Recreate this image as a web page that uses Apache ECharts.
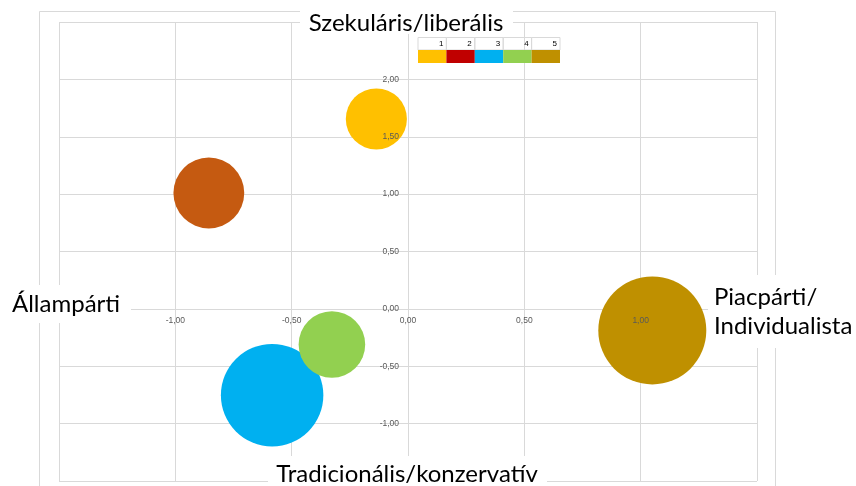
<!DOCTYPE html>
<html>
<head>
<meta charset="utf-8">
<script src="https://cdn.jsdelivr.net/npm/echarts@6/dist/echarts.min.js"></script>
<style>
  html, body { margin: 0; padding: 0; background: #fff; }
  #chart { width: 856px; height: 486px; }
</style>
</head>
<body>
<div id="chart"></div>
<script>
// bubble data, one entry per group
const seriesNames = ['1', '2', '3', '4', '5'];
const xValues = [-0.136, -0.856, -0.584, -0.327, 1.05];
const yValues = [1.655, 1.01, -0.752, -0.31, -0.188];
const bubbleSizes = [32, 43, 90, 38, 100];
const bubbleColors = ['#FFC000', '#C55A11', '#00B0F0', '#92D050', '#BF9000'];

// the small legend table at the top
const legendLabels = ['1', '2', '3', '4', '5'];
const legendColors = ['#FFC000', '#C00000', '#00B0F0', '#92D050', '#BF9000'];

// axis titles
const titleTop = 'Szekuláris/liberális';
const titleBottom = 'Tradicionális/konzervatív';
const titleLeft = 'Állampárti';
const titleRight = 'Piacpárti/\nIndividualista';

const chart = echarts.init(document.getElementById('chart'));

const xMin = -1.5, xMax = 1.5, yMin = -1.5, yMax = 2.5;
const gridW = 698, gridH = 459;

const maxSize = Math.max(...bubbleSizes);
const fmt = (v) => v.toFixed(2).replace('.', ',');
const gridColor = '#d9d9d9';
const titleFont = '24px Lato';
const labelStyle = { fontSize: 8.5, fontFamily: 'Liberation Sans', color: '#595959', hideOverlap: false };

const seriesData = seriesNames.map((name, i) => ({
    name: name,
    type: 'scatter',
    xAxisIndex: 0,
    yAxisIndex: 0,
    symbolSize: (v) => 108 * Math.sqrt(v[2] / maxSize),
    itemStyle: { color: bubbleColors[i], opacity: 1 },
    data: [[xValues[i], yValues[i], bubbleSizes[i]]]
}));

// legend table
const legendGraphics = [];
const cellW = 28.4;
legendLabels.forEach((lab, i) => {
    const x0 = 418 + i * cellW;
    legendGraphics.push({
        type: 'rect', z: 20,
        shape: { x: x0, y: 37.5, width: cellW, height: 12.5 },
        style: { fill: 'none', stroke: gridColor, lineWidth: 1 }
    });
    legendGraphics.push({
        type: 'text', z: 21,
        style: { text: lab, x: x0 + cellW - 3, y: 44, align: 'right', verticalAlign: 'middle', font: '8px Liberation Sans', fill: '#000' }
    });
    legendGraphics.push({
        type: 'rect', z: 21,
        shape: { x: x0, y: 50, width: cellW, height: 13 },
        style: { fill: legendColors[i] }
    });
});

const option = {
    backgroundColor: '#fff',
    animation: false,
    grid: { left: 59, top: 22, width: gridW, height: gridH, outerBoundsMode: 'none', containLabel: false },
    xAxis: [
        {
            // gridlines + axis line at y = 0, drawn under the bubbles
            type: 'value', position: 'bottom', z: 0,
            min: xMin, max: xMax, interval: 0.5,
            offset: -(0 - yMin) / (yMax - yMin) * gridH,
            axisLine: { show: true, onZero: false, lineStyle: { color: gridColor } },
            axisTick: { show: false },
            axisLabel: { show: false },
            splitLine: { show: true, lineStyle: { color: gridColor } }
        },
        {
            // tick labels, drawn over the bubbles
            type: 'value', position: 'top', z: 10,
            min: xMin, max: xMax, interval: 0.5,
            offset: -(yMax - 0) / (yMax - yMin) * gridH,
            axisLine: { show: false, onZero: false },
            axisTick: { show: false },
            splitLine: { show: false },
            axisLabel: Object.assign({
                inside: true, margin: 7,
                formatter: (v) => (v <= xMin || v >= xMax) ? '' : fmt(v)
            }, labelStyle)
        }
    ],
    yAxis: [
        {
            type: 'value', position: 'left', z: 0,
            min: yMin, max: yMax, interval: 0.5,
            offset: -(0 - xMin) / (xMax - xMin) * gridW,
            axisLine: { show: true, onZero: false, lineStyle: { color: gridColor } },
            axisTick: { show: false },
            axisLabel: { show: false },
            splitLine: { show: true, lineStyle: { color: gridColor } }
        },
        {
            type: 'value', position: 'right', z: 10,
            min: yMin, max: yMax, interval: 0.5,
            offset: -(xMax - 0) / (xMax - xMin) * gridW,
            axisLine: { show: false, onZero: false },
            axisTick: { show: false },
            splitLine: { show: false },
            axisLabel: Object.assign({
                inside: true, margin: 9,
                formatter: (v) => (v <= yMin || v >= yMax) ? '' : fmt(v)
            }, labelStyle)
        }
    ],
    graphic: [
        // chart area frame
        {
            type: 'rect', z: 5,
            shape: { x: 39.5, y: 11.5, width: 736, height: 520 },
            style: { fill: 'none', stroke: gridColor, lineWidth: 1 }
        },
        // white boxes behind the titles
        { type: 'rect', z: 10, shape: { x: 300, y: 0, width: 213, height: 34 }, style: { fill: '#fff' } },
        { type: 'rect', z: 10, shape: { x: 268, y: 456, width: 279, height: 30 }, style: { fill: '#fff' } },
        { type: 'rect', z: 10, shape: { x: 0, y: 285, width: 131, height: 38 }, style: { fill: '#fff' } },
        { type: 'rect', z: 10, shape: { x: 708, y: 275, width: 148, height: 73 }, style: { fill: '#fff' } },
        {
            type: 'text', z: 11,
            style: { text: titleTop, x: 406, y: 23, align: 'center', verticalAlign: 'middle', font: titleFont, fill: '#000' }
        },
        {
            type: 'text', z: 11,
            style: { text: titleBottom, x: 407, y: 474, align: 'center', verticalAlign: 'middle', font: titleFont, fill: '#000' }
        },
        {
            type: 'text', z: 11,
            style: { text: titleLeft, x: 12, y: 304, align: 'left', verticalAlign: 'middle', font: titleFont, fill: '#000' }
        },
        {
            type: 'text', z: 11,
            style: { text: titleRight, x: 714, y: 312, align: 'left', verticalAlign: 'middle', font: titleFont, lineHeight: 29, fill: '#000' }
        }
    ].concat(legendGraphics),
    series: seriesData
};

chart.setOption(option);
</script>
</body>
</html>
